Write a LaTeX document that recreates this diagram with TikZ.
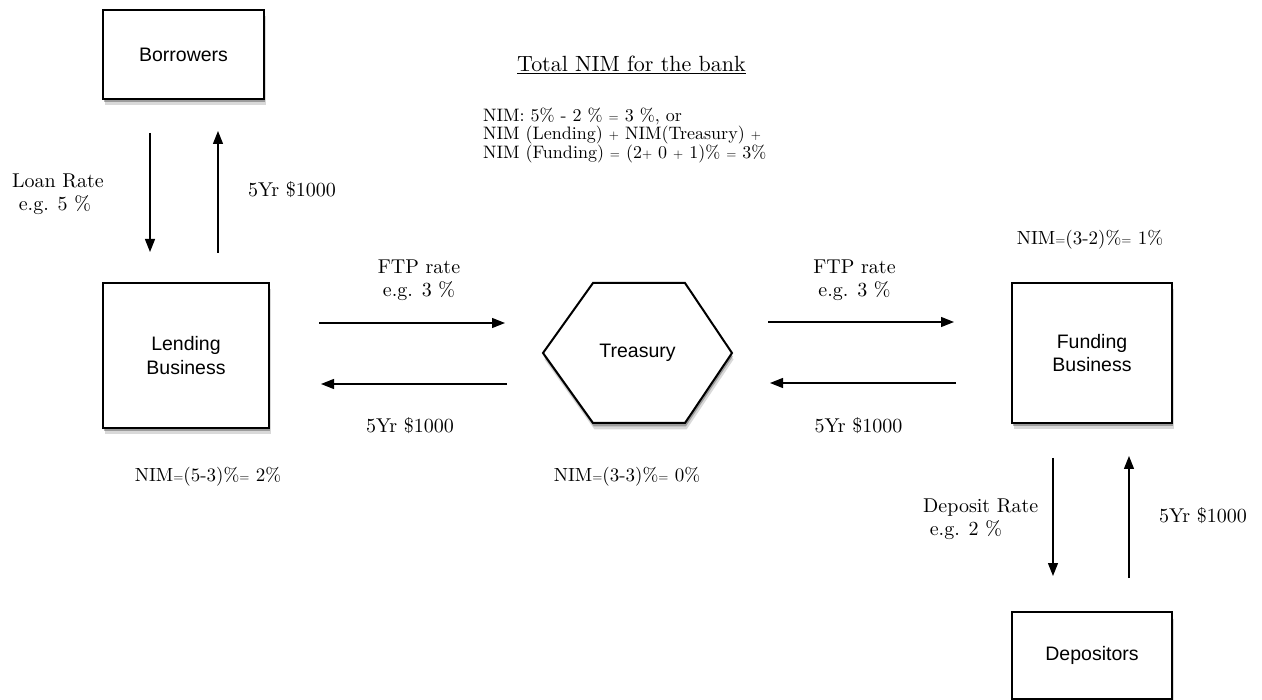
\documentclass[tikz,border=0pt]{standalone}
\usepackage{fontspec}
\setmainfont{lmroman10-regular}[Extension=.otf]
\setsansfont{Liberation Sans}
\usetikzlibrary{arrows.meta,shadows,calc}
\newcommand\smallop[1]{{\fontsize{13}{13}\selectfont #1}}
\begin{document}
\begin{tikzpicture}[x=1pt,y=-1pt,
  softshadow/.style={
    general shadow={fill=black,opacity=0.15,shadow xshift=1.5pt,shadow yshift=-6.5pt},
    general shadow={fill=black,opacity=0.28,shadow xshift=0.8pt,shadow yshift=-3.5pt}},
  box/.style={draw=black, line width=2pt, fill=white, inner sep=0pt,
    font=\sffamily\fontsize{19.5}{23.5}\selectfont, align=center, softshadow},
  hexline/.style={draw=black, line width=2pt, fill=white, softshadow},
  boxtext/.style={inner sep=0pt, font=\sffamily\fontsize{19.5}{23.5}\selectfont, align=center},
  arr/.style={-{Triangle[length=13pt,width=10pt]}, line width=1.3pt},
  lbl/.style={inner sep=0pt, font=\fontsize{20}{23.5}\selectfont},
  nimlbl/.style={inner sep=0pt, font=\fontsize{19}{21}\selectfont}
]
\fill[white] (0,0) rectangle (1262,700);
\useasboundingbox (0,0) rectangle (1262,700);

% boxes
\node[box, minimum width=161pt, minimum height=89pt] (borrowers) at (183.5,54.5) {Borrowers};
\node[box, minimum width=166pt, minimum height=145pt] (lending) at (186,355.5) {Lending\\Business};
\node[box, minimum width=160pt, minimum height=140pt] (funding) at (1092,353) {Funding\\Business};
\node[box, minimum width=160pt, minimum height=87pt] (depositors) at (1092,655.5) {Depositors};

% treasury hexagon
\coordinate (tw) at (543,353);
\coordinate (te) at (732,353);
\path[hexline] (tw) -- (593,283) -- (685,283) -- (te) -- (685,423) -- (593,423) -- cycle;
\node[boxtext] (treasury) at (637.5,353) {Treasury};

% connectors
\draw[arr] ([shift={(-33.5,33)}]borrowers.south) -- ([shift={(-36,-30)}]lending.north);
\draw[arr] ([shift={(32,-29)}]lending.north) -- ([shift={(34.5,31)}]borrowers.south);

\draw[arr] ([shift={(49,-32.5)}]lending.east) -- ([shift={(-38,-30)}]tw);
\draw[arr] ([shift={(-36,31)}]tw) -- ([shift={(51,28.5)}]lending.east);

\draw[arr] ([shift={(36,-31)}]te) -- ([shift={(-57,-31)}]funding.west);
\draw[arr] ([shift={(-55,30)}]funding.west) -- ([shift={(38,30)}]te);

\draw[arr] ([shift={(-39,34)}]funding.south) -- ([shift={(-39,-35)}]depositors.north);
\draw[arr] ([shift={(37,-33)}]depositors.north) -- ([shift={(37,32)}]funding.south);

% texts
\node[inner sep=0pt, anchor=base, font=\fontsize{22}{26}\selectfont] (title) at (631.5,72) {\underline{Total NIM for the bank}};
\node[inner sep=0pt, anchor=north west, align=left, font=\fontsize{18}{17.5}\selectfont] (total) at (483,108)
  {NIM: 5\% - 2 \% \smallop{=} 3 \%, or\\NIM (Lending) \smallop{+} NIM(Treasury) \smallop{+}\\NIM (Funding) \smallop{=} (2\smallop{+} 0 \smallop{+} 1)\% \smallop{=} 3\%};

\node[lbl, anchor=north west, align=left] (loanrate) at (12,173.5) {Loan Rate\\\ e.g. 5 \%};
\node[lbl, anchor=base] (amt1) at (292,197) {5Yr \$1000};

\node[lbl, anchor=north, align=center] (ftp1) at (419,259.5) {FTP rate\\e.g. 3 \%};
\node[lbl, anchor=base] (amt2) at (410,433) {5Yr \$1000};

\node[lbl, anchor=north, align=center] (ftp2) at (854.5,259.5) {FTP rate\\e.g. 3 \%};
\node[lbl, anchor=base] (amt3) at (858.5,433) {5Yr \$1000};

\node[nimlbl, anchor=base] (nimlend) at (208,482) {NIM\smallop{=}(5-3)\%\smallop{=} 2\%};
\node[nimlbl, anchor=base] (nimtreas) at (627,482) {NIM\smallop{=}(3-3)\%\smallop{=} 0\%};
\node[nimlbl, anchor=base] (nimfund) at (1090,245) {NIM\smallop{=}(3-2)\%\smallop{=} 1\%};

\node[lbl, anchor=north west, align=left] (deprate) at (923,498.5) {Deposit Rate\\\ e.g. 2 \%};
\node[lbl, anchor=base] (amt4) at (1203,523) {5Yr \$1000};
\end{tikzpicture}
\end{document}
